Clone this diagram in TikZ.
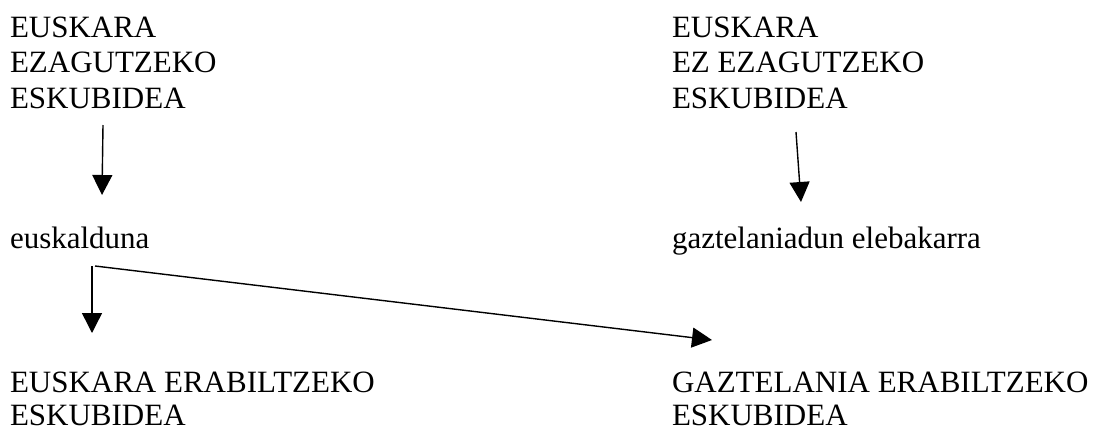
\documentclass[tikz,border=0pt]{standalone}
\usepackage{fontspec}
\setmainfont{Liberation Serif}
\usetikzlibrary{arrows.meta}

\begin{document}
\begin{tikzpicture}[x=1pt,y=-1pt,
  lbl/.style={anchor=base west,inner sep=0pt,outer sep=0pt,
    font=\fontsize{31}{35.5}\selectfont},
  tight/.style={font=\fontsize{31}{33}\selectfont},
  arr/.style={line width=1.4pt,-{Triangle[width=20pt,length=20pt]}}]
  \useasboundingbox (0,0) rectangle (1104,429);

  % text blocks
  \node[lbl] (knowL) at (10,37)
    {\begin{tabular}[t]{@{}l@{}}EUSKARA\\EZAGUTZEKO\\ESKUBIDEA\end{tabular}};
  \node[lbl] (knowR) at (672,37)
    {\begin{tabular}[t]{@{}l@{}}EUSKARA\\EZ EZAGUTZEKO\\ESKUBIDEA\end{tabular}};
  \node[lbl] (basque) at (10,248) {euskalduna};
  \node[lbl] (mono) at (672,248) {gaztelaniadun elebakarra};
  \node[lbl,tight] (useL) at (10,392)
    {\begin{tabular}[t]{@{}l@{}}EUSKARA ERABILTZEKO\\ESKUBIDEA\end{tabular}};
  \node[lbl,tight] (useR) at (672,392)
    {\begin{tabular}[t]{@{}l@{}}GAZTELANIA ERABILTZEKO\\ESKUBIDEA\end{tabular}};

  % arrow end points
  \coordinate (a1s) at (103,125);
  \coordinate (a1e) at (102,195);
  \coordinate (a2s) at (796,132);
  \coordinate (a2e) at (801,202);
  \coordinate (a3s) at (92,266);
  \coordinate (a3e) at (92,333);
  \coordinate (a4s) at (95,266);
  \coordinate (a4e) at (712,340);

  \draw[arr] (a1s) -- (a1e);
  \draw[arr] (a2s) -- (a2e);
  \draw[arr] (a3s) -- (a3e);
  \draw[arr] (a4s) -- (a4e);
\end{tikzpicture}
\end{document}
